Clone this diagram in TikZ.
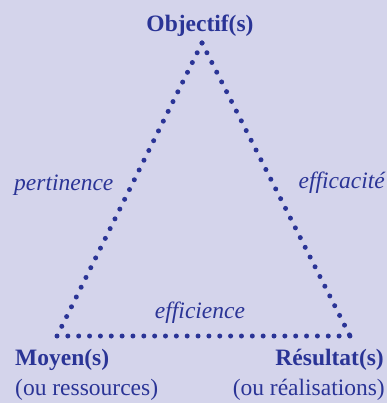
\documentclass[tikz,border=0pt]{standalone}
\usepackage{fontspec}
\setmainfont{Liberation Serif}
\definecolor{bg}{RGB}{212,212,235}
\definecolor{ink}{RGB}{42,52,150}
\begin{document}
\begin{tikzpicture}[x=1pt,y=-1pt,
  lbl/.style={inner sep=0pt,text=ink,font=\fontsize{23.5}{28}\selectfont},
  dotline/.style={draw=ink,line width=5pt,line cap=round}]
\useasboundingbox[fill=bg] (0,0) rectangle (387,403);
\coordinate (A) at (202,43);
\coordinate (L) at (57,336);
\coordinate (R) at (350,336);
\draw[dotline,dash pattern=on 0pt off 10.9pt] (A) -- (L);
\draw[dotline,dash pattern=on 0pt off 10.9pt] (A) -- (R);
\draw[dotline,dash pattern=on 0pt off 10.85pt] (L) -- (R);
\node[lbl,anchor=base,font=\fontsize{23.5}{28}\selectfont\bfseries] (obj) at (200,32) {Objectif(s)};
\node[lbl,anchor=base west,font=\fontsize{23.5}{28}\selectfont\bfseries] (moy) at (15,365) {Moyen(s)};
\node[lbl,anchor=base west] (res) at (15,395) {(ou ressources)};
\node[lbl,anchor=base east,font=\fontsize{23.5}{28}\selectfont\bfseries] (resu) at (384,365) {Résultat(s)};
\node[lbl,anchor=base east] (real) at (385,395) {(ou réalisations)};
\node[lbl,anchor=base west,font=\fontsize{23.5}{28}\selectfont\itshape] (pert) at (14,190) {pertinence};
\node[lbl,anchor=base east,font=\fontsize{23.5}{28}\selectfont\itshape] (effa) at (385,188) {efficacité};
\node[lbl,anchor=base,font=\fontsize{23.5}{28}\selectfont\itshape] (effi) at (200,318) {efficience};
\end{tikzpicture}
\end{document}
